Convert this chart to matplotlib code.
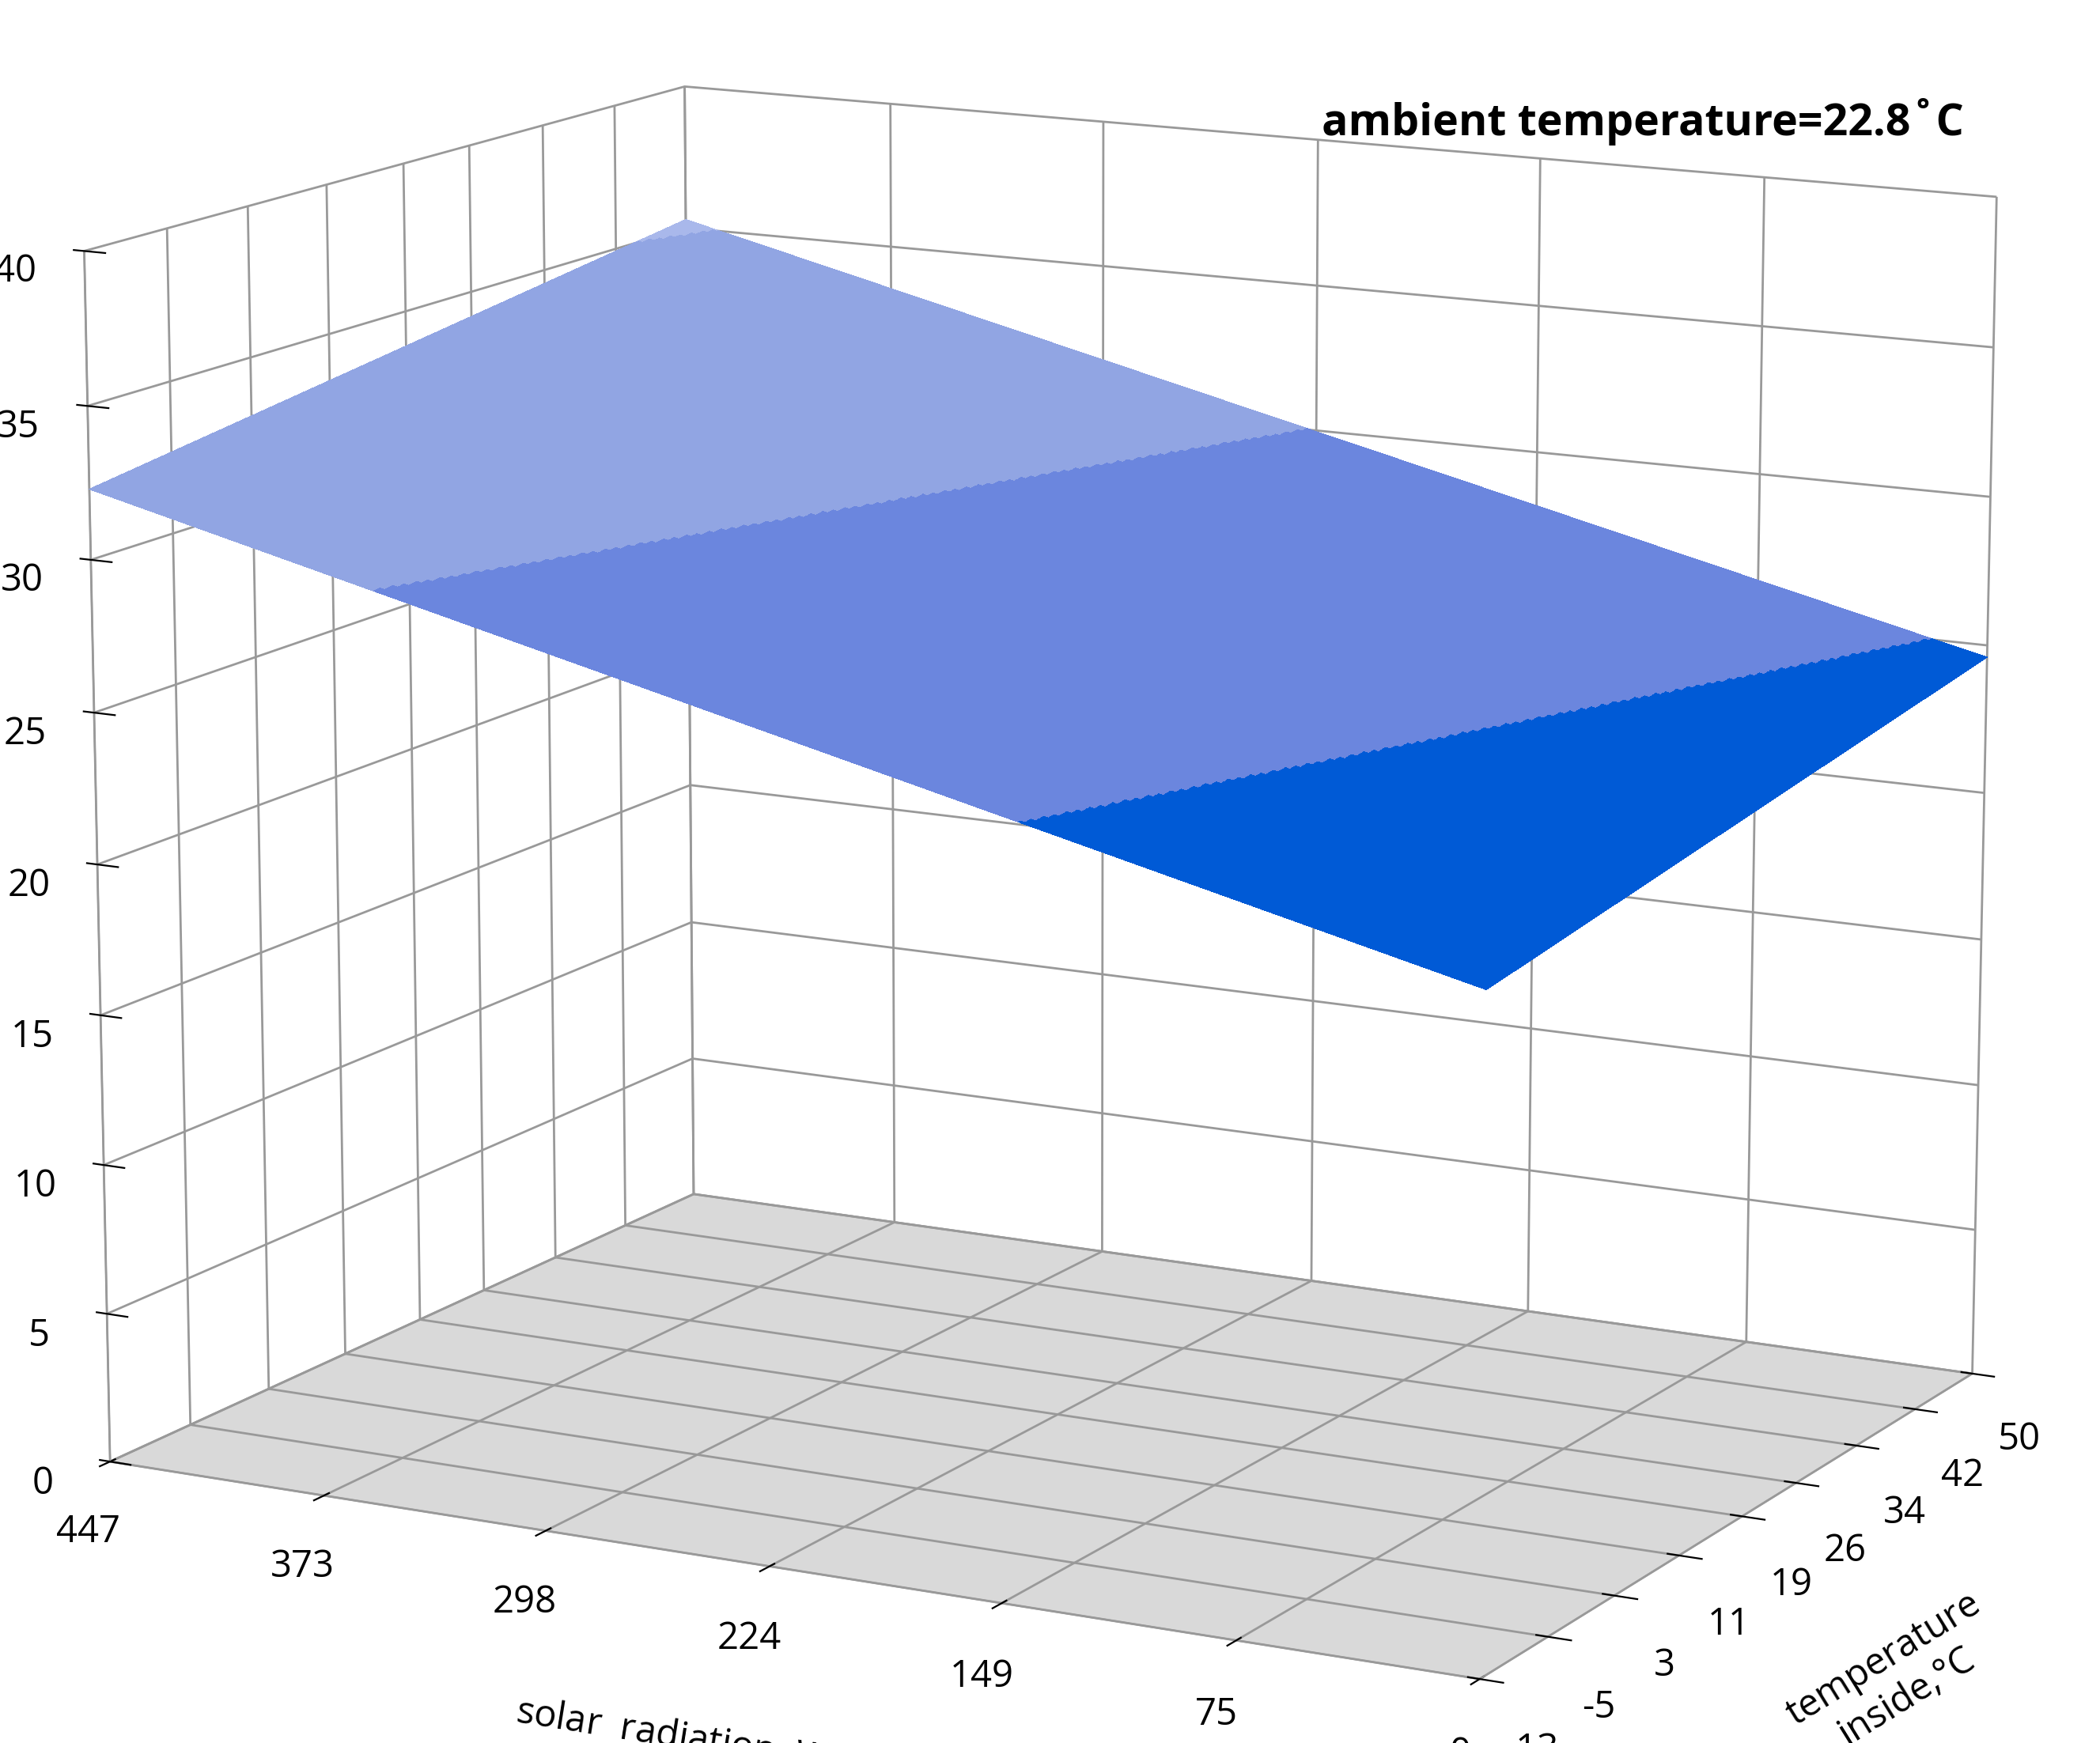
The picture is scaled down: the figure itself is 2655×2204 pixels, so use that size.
import numpy as np
import matplotlib.pyplot as plt
from matplotlib.colors import ListedColormap, BoundaryNorm

# corner values (solar W/m2, inside temp C, final temp C)
solar_ticks = [447, 373, 298, 224, 149, 75, 0]
inside_ticks = [-13, -5, 3, 11, 19, 26, 34, 42, 50]
corner_solar = [447, 447, 0, 0]
corner_inside = [-13, 50, 50, -13]
corner_final = [32.3, 35.3, 24.6, 21.6]
band_edges = [20, 25, 30, 35, 40]
band_colors = ['#005AD6', '#6B86DE', '#91A5E3', '#A9B8EB']

plt.rcParams['font.family'] = ['Open Sans', 'DejaVu Sans']
plt.rcParams['font.size'] = 17
plt.rcParams['axes.unicode_minus'] = False

# fit plane through the corners
A = np.c_[np.ones(4), corner_solar, corner_inside]
coef = np.linalg.lstsq(A, np.array(corner_final), rcond=None)[0]

s = np.linspace(0, 447, 300)
t = np.linspace(-13, 50, 300)
S, T = np.meshgrid(s, t)
Z = coef[0] + coef[1] * S + coef[2] * T

cmap = ListedColormap(band_colors)
norm = BoundaryNorm(band_edges, cmap.N)

fig = plt.figure(figsize=(13.275, 11.02), dpi=200)
ax = fig.add_axes([-0.04, -0.04, 1.06, 1.1], projection='3d')
ax.plot_surface(S, T, Z, facecolors=cmap(norm(Z)), shade=False,
                linewidth=0, antialiased=False, rstride=1, cstride=1)

ax.set_xlim(447, 0)
ax.set_ylim(-13, 50)
ax.set_zlim(0, 40)
ax.set_xticks(solar_ticks)
ax.set_yticks(inside_ticks)
ax.set_zticks(range(0, 41, 5))
ax.view_init(elev=13, azim=-62)
ax.set_box_aspect((1.3, 1.0, 1.05), zoom=1.15)

ax.xaxis.set_pane_color((1, 1, 1, 1))
ax.yaxis.set_pane_color((1, 1, 1, 1))
ax.zaxis.set_pane_color((0.85, 0.85, 0.85, 1))
for a in (ax.xaxis, ax.yaxis, ax.zaxis):
    a._axinfo['grid']['color'] = (0.6, 0.6, 0.6, 1)
    a._axinfo['grid']['linewidth'] = 1.0
    a.line.set_color((0.6, 0.6, 0.6))
# put the z axis on the left side
ax.zaxis._axinfo['juggled'] = (1, 2, 0)

ax.set_xlabel('solar  radiation, W/m$^2$', labelpad=30)
ax.set_ylabel('temperature\ninside,°C', labelpad=30)
ax.set_zlabel('final temperature,°C', labelpad=20)
ax.tick_params(axis='both', pad=8)

fig.text(0.935, 0.93, 'ambient temperature=22.8˚C', ha='right', va='center',
         fontsize=20, fontweight='bold')

fig.savefig('out.png', dpi=200)
